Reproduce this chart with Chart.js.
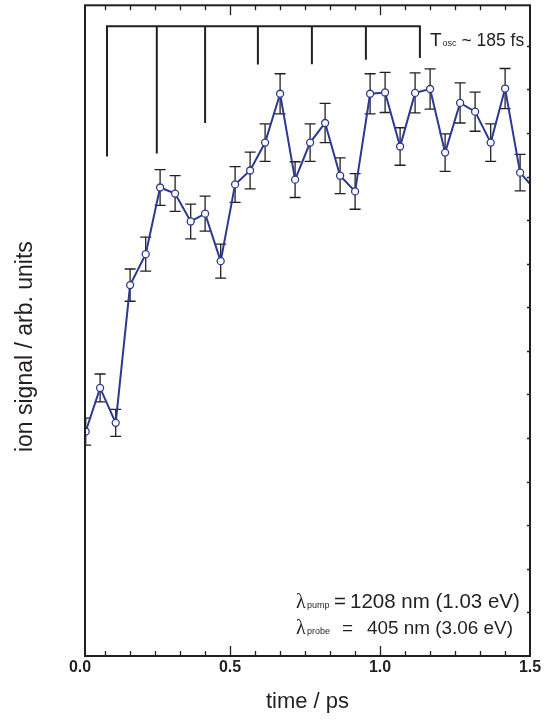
<!DOCTYPE html>
<html>
<head>
<meta charset="utf-8">
<script src="https://cdn.jsdelivr.net/npm/chart.js@4.4.1/dist/chart.umd.min.js"></script>
<style>
  html, body { margin: 0; padding: 0; background: #fff; }
  #wrap { width: 554px; height: 722px; }
</style>
</head>
<body>
<div id="wrap"><canvas id="ionChart"></canvas></div>
<script>
// pump-probe transient
const timePs = [0.019, 0.067, 0.119, 0.167, 0.219, 0.267, 0.317, 0.369, 0.417, 0.469,
                0.517, 0.567, 0.617, 0.667, 0.717, 0.767, 0.817, 0.867, 0.917, 0.967,
                1.017, 1.067, 1.117, 1.167, 1.217, 1.267, 1.317, 1.369, 1.417, 1.467, 1.517];
const ionSignal = [5.15, 6.15, 5.35, 8.51, 9.22, 10.75, 10.61, 9.97, 10.15, 9.06,
                   10.82, 11.14, 11.78, 12.90, 10.93, 11.78, 12.23, 11.02, 10.66, 12.90,
                   12.93, 11.69, 12.92, 13.01, 11.55, 12.69, 12.49, 11.78, 13.02, 11.09, 10.70];
const signalErr = [0.31, 0.32, 0.31, 0.37, 0.39, 0.41, 0.41, 0.40, 0.40, 0.39,
                   0.41, 0.42, 0.43, 0.46, 0.41, 0.43, 0.45, 0.41, 0.41, 0.46,
                   0.46, 0.43, 0.46, 0.46, 0.43, 0.46, 0.45, 0.43, 0.46, 0.42, 0.41];

// oscillation comb (T_osc ~ 185 fs)
const combTimes = [0.090, 0.256, 0.417, 0.593, 0.773, 0.953, 1.133];
const combTop = 14.45;
const combEnds = [11.46, 11.53, 12.23, 13.57, 13.58, 13.68, 13.72];

const xTickValues = [0, 0.5, 1.0, 1.5];
const xMinorValues = [1/12, 2/12, 3/12, 4/12, 5/12, 7/12, 8/12, 9/12, 10/12, 11/12,
                      13/12, 14/12, 15/12, 16/12, 17/12];
const yTickValues = [1, 2, 3, 4, 5, 6, 7, 8, 9, 10, 11, 12, 13, 14];

const INK = '#231f20';
const BLUE = '#2b3990';
const SANS = '"Liberation Sans", Arial, sans-serif';

// comb path: along the top, down each tooth and back up
const combPath = [];
combTimes.forEach((t, i) => {
    combPath.push({x: t, y: combTop});
    combPath.push({x: t, y: combEnds[i]});
    combPath.push({x: t, y: combTop});
});

const framePlugin = {
    id: 'frame',
    beforeDatasetsDraw(chart) {
        const {ctx, chartArea: a, scales: {x, y}} = chart;
        ctx.save();
        ctx.beginPath();
        ctx.rect(a.left, a.top, a.right - a.left, a.bottom - a.top);
        ctx.clip();
        // error bars
        ctx.strokeStyle = INK;
        ctx.lineWidth = 1.3;
        timePs.forEach((t, i) => {
            const px = x.getPixelForValue(t);
            const lo = y.getPixelForValue(ionSignal[i] - signalErr[i]);
            const hi = y.getPixelForValue(ionSignal[i] + signalErr[i]);
            ctx.beginPath();
            ctx.moveTo(px, lo); ctx.lineTo(px, hi);
            ctx.moveTo(px - 5.5, lo); ctx.lineTo(px + 5.5, lo);
            ctx.moveTo(px - 5.5, hi); ctx.lineTo(px + 5.5, hi);
            ctx.stroke();
        });
        ctx.restore();
    },
    afterDraw(chart) {
        const {ctx, chartArea: a, scales: {x, y}} = chart;
        ctx.save();
        ctx.strokeStyle = INK;
        ctx.lineWidth = 2;
        ctx.strokeRect(a.left, a.top, a.right - a.left, a.bottom - a.top);

        // inward ticks, top and bottom
        ctx.lineWidth = 1.3;
        ctx.beginPath();
        const xTick = (v, len) => {
            const px = Math.round(x.getPixelForValue(v)) + 0.5;
            ctx.moveTo(px, a.bottom); ctx.lineTo(px, a.bottom - len);
            ctx.moveTo(px, a.top); ctx.lineTo(px, a.top + len);
        };
        xMinorValues.forEach(v => xTick(v, 5));
        [0.5, 1.0].forEach(v => xTick(v, 10));
        // right axis ticks
        yTickValues.forEach(v => {
            const py = Math.round(y.getPixelForValue(v)) + 0.5;
            ctx.moveTo(a.right, py); ctx.lineTo(a.right - 3, py);
        });
        ctx.stroke();

        // annotations
        ctx.fillStyle = INK;
        ctx.textBaseline = 'alphabetic';
        ctx.textAlign = 'left';
        let cx = 430;
        ctx.font = '19px ' + SANS;
        ctx.fillText('T', cx, 46);
        cx += ctx.measureText('T').width + 1;
        ctx.font = '9px ' + SANS;
        ctx.fillText('osc', cx, 46);
        cx += ctx.measureText('osc').width;
        ctx.font = '17.5px ' + SANS;
        ctx.fillText(' ~ 185 fs', cx, 46);

        const lambdaLine = (sub, eqX, value, valueX, size, base) => {
            ctx.font = '20px "Liberation Serif", serif';
            ctx.fillText('\u03bb', 296, base);
            ctx.font = '9px ' + SANS;
            ctx.fillText(sub, 307, base);
            ctx.font = size + 'px ' + SANS;
            ctx.fillText('=', eqX, base);
            ctx.fillText(value, valueX, base);
        };
        lambdaLine('pump', 334, '1208 nm (1.03 eV)', 350, 20.5, 608);
        lambdaLine('probe', 342, '405 nm (3.06 eV)', 367, 18.9, 634);
        ctx.restore();
    }
};

new Chart(document.getElementById('ionChart'), {
    type: 'line',
    data: {
        datasets: [
            {
                label: 'ion signal',
                data: timePs.map((t, i) => ({x: t, y: ionSignal[i]})),
                borderColor: BLUE,
                borderWidth: 2,
                pointRadius: 3.5,
                pointBorderWidth: 1.3,
                pointBackgroundColor: '#fff',
                pointBorderColor: BLUE,
                tension: 0
            },
            {
                label: 'comb',
                data: combPath,
                borderColor: INK,
                borderWidth: 2,
                pointRadius: 0,
                tension: 0
            }
        ]
    },
    options: {
        responsive: true,
        maintainAspectRatio: false,
        animation: false,
        events: [],
        layout: { padding: { left: 0, right: 24, top: 2, bottom: 0 } },
        plugins: {
            legend: { display: false },
            tooltip: { enabled: false }
        },
        scales: {
            x: {
                type: 'linear',
                min: 1 / 60,
                max: 1.5,
                grid: { display: false, drawTicks: false },
                border: { display: false },
                afterBuildTicks: scale => {
                    scale.ticks = xTickValues.map(v => ({value: v}));
                },
                afterFit: scale => { scale.height = 66; },
                ticks: {
                    autoSkip: false,
                    maxRotation: 0,
                    padding: 2,
                    color: INK,
                    font: { family: SANS, size: 16, weight: 'bold' },
                    callback: v => v.toFixed(1)
                },
                title: {
                    display: true,
                    text: 'time / ps',
                    color: INK,
                    font: { family: SANS, size: 22 },
                    padding: { top: 5, bottom: 7 }
                }
            },
            y: {
                min: 0,
                max: 14.93,
                grid: { display: false, drawTicks: false },
                border: { display: false },
                afterFit: scale => { scale.width = 85; },
                ticks: { display: false },
                title: {
                    display: true,
                    text: 'ion signal / arb. units\u00a0\u00a0\u00a0\u00a0\u00a0',
                    color: INK,
                    font: { family: SANS, size: 23 },
                    padding: { top: 12, bottom: 45 }
                }
            }
        }
    },
    plugins: [framePlugin]
});
</script>
</body>
</html>
